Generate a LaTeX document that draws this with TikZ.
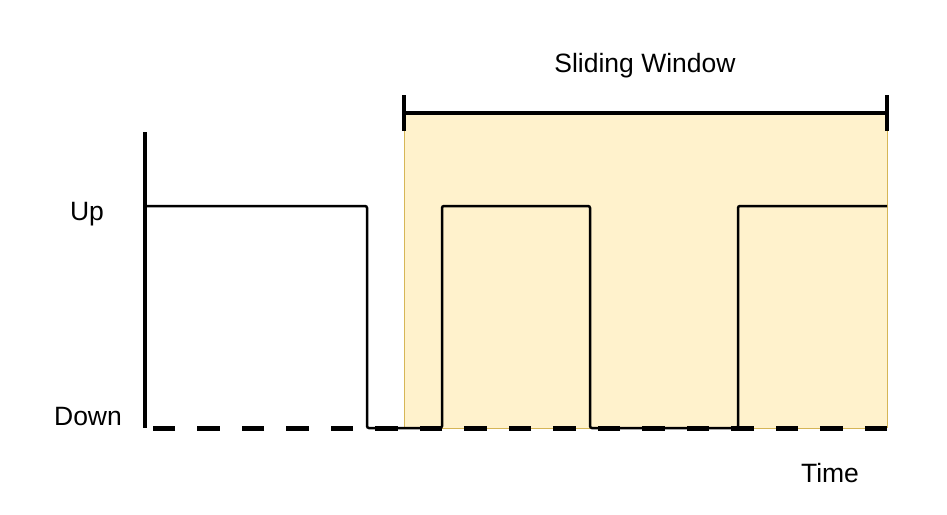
\documentclass[tikz,border=0pt]{standalone}
\usepackage{fontspec}
\setmainfont{Liberation Sans}
\usetikzlibrary{calc}
\definecolor{winfill}{HTML}{FFF2CC}
\definecolor{winline}{HTML}{D6B656}
\tikzset{
  lbl/.style={font=\fontsize{26.5}{30}\selectfont, inner sep=0pt},
  sig/.style={line width=2.5pt, rounded corners=2pt},
  thickline/.style={line width=4.5pt},
}
\begin{document}
\begin{tikzpicture}[x=1pt,y=-1pt]
\useasboundingbox (0,0) rectangle (947,514);
% sliding window
\fill[winfill] (404,113) rectangle (887,428);
\draw[winline, line width=1pt] (404,113) -- (404,428);
\draw[winline, line width=1pt] (887,113) -- (887,428);
\draw[winline, line width=1pt] (404,428) -- (887,428);
\coordinate (wl) at (404,113);
\coordinate (wr) at (887,113);
\draw[thickline] (wl) -- (wr);
\draw[thickline] ($(wl)+(0,-18)$) -- ($(wl)+(0,18)$);
\draw[thickline] ($(wr)+(0,-18)$) -- ($(wr)+(0,18)$);
\node[lbl] (sw) at (645,66) {Sliding Window};
% axis
\coordinate (atop) at (145,132);
\coordinate (abot) at (145,428);
\draw[thickline] (atop) -- (abot);
% dashed baseline
\coordinate (dstart) at (887,428);
\coordinate (dend) at (150,428);
\draw[line width=5pt, dash pattern=on 22.5pt off 22pt] (dstart) -- (dend);
% signal
\draw[sig] (147,206) -- (367,206) -- (367,428) -- (442,428) -- (442,206) -- (590,206) -- (590,428) -- (738,428) -- (738,206) -- (887,206);
% labels
\node[lbl] (up) at (87,214) {Up};
\node[lbl] (down) at (88,417) {Down};
\node[lbl] (time) at (830,473) {Time};
\end{tikzpicture}
\end{document}
